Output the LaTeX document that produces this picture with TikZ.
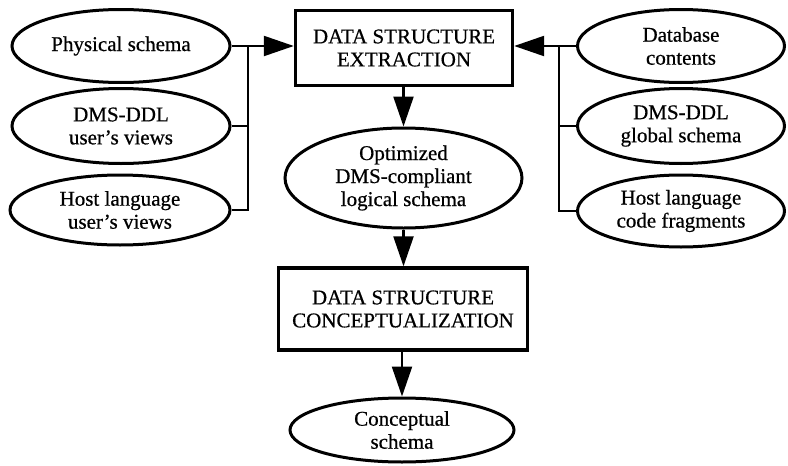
\documentclass[tikz,border=0pt]{standalone}
\usepackage{fontspec}
\setmainfont{Liberation Serif}[FakeBold=0.6]
\usetikzlibrary{shapes.geometric,arrows.meta}

\begin{document}
\begin{tikzpicture}[x=1pt,y=-1pt,
  every node/.style={font=\fontsize{21}{23}\selectfont, align=center, inner sep=0pt},
  oval/.style={ellipse, draw, line width=3pt},
  procbox/.style={rectangle, draw, line width=3.4pt},
  link/.style={line width=2.3pt},
  flow/.style={line width=2.3pt, -{Triangle[length=30pt,width=20pt]}},
]
\useasboundingbox (0,0) rectangle (788,466);

% central process chain
\node[procbox, minimum width=217pt, minimum height=75pt] (extr) at (404,48)
  {DATA STRUCTURE\\EXTRACTION};
\node[oval, minimum width=237pt, minimum height=100pt] (opt) at (403.5,178)
  {Optimized\\DMS-compliant\\logical schema};
\node[procbox, minimum width=249pt, minimum height=82pt] (conc) at (403,309)
  {DATA STRUCTURE\\CONCEPTUALIZATION};
\node[oval, minimum width=224pt, minimum height=64pt] (cs) at (402,430)
  {Conceptual\\schema};

% left-hand sources
\node[oval, minimum width=218pt, minimum height=73pt] (phys) at (121,46) {Physical schema};
\node[oval, minimum width=218pt, minimum height=75pt] (uview) at (121,126) {DMS-DDL\\user's views};
\node[oval, minimum width=220pt, minimum height=70pt] (hview) at (120,210) {Host language\\user's views};

% right-hand sources
\node[oval, minimum width=207pt, minimum height=73pt] (db) at (681,46) {Database\\contents};
\node[oval, minimum width=207pt, minimum height=75pt] (glob) at (681,126) {DMS-DDL\\global schema};
\node[oval, minimum width=207pt, minimum height=72pt] (code) at (681,211) {Host language\\code fragments};

% collector buses
\coordinate (busL) at (248,46);
\coordinate (busR) at (559,46);

\draw[flow] (phys.east) -- (extr.west |- phys.east);
\draw[link] (uview.east) -- (uview.east -| busL);
\draw[link] (hview.east) -| (busL);

\draw[flow] (db.west) -- (extr.east |- db.west);
\draw[link] (glob.west) -- (glob.west -| busR);
\draw[link] (code.west) -| (busR);

\draw[flow] (extr.south -| opt.north) -- (opt.north);
\draw[flow] (opt.south) -- (conc.north -| opt.south);
\draw[flow] (conc.south -| cs.north) -- (cs.north);
\end{tikzpicture}
\end{document}
